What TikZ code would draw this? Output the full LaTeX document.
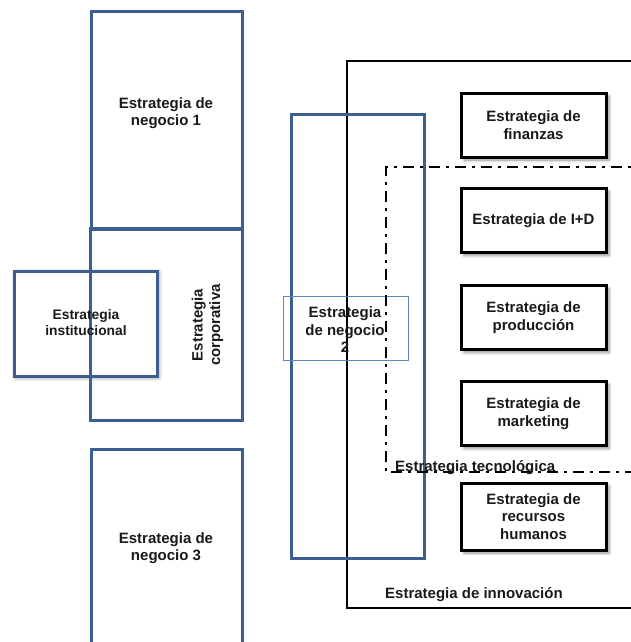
\documentclass[tikz,border=0pt]{standalone}
\usepackage{fontspec}
\setmainfont{Liberation Sans}
\usetikzlibrary{shadows.blur}
\definecolor{stratblue}{HTML}{3B5F8E}
\definecolor{labelblue}{HTML}{5B87C0}
\definecolor{inktext}{HTML}{1A1A1A}
\begin{document}
\begin{tikzpicture}[x=1pt,y=-1pt,
  lbl/.style={font=\fontsize{15}{17.5}\selectfont\bfseries, text=inktext, align=center, inner sep=0pt},
  bluebox/.style={draw=stratblue, line width=3pt, inner sep=0pt},
  blackbox/.style={draw=black, line width=3pt, fill=white, inner sep=0pt,
    minimum width=145pt, minimum height=64pt, align=center, text=inktext,
    font=\fontsize{15}{17.5}\selectfont\bfseries,
    blur shadow={shadow xshift=3pt, shadow yshift=-3pt, shadow blur steps=6, shadow blur radius=3pt, shadow opacity=45}},
  techline/.style={line width=2.2pt, dash pattern=on 11pt off 6pt on 3pt off 6pt},
]
\useasboundingbox (0,0) rectangle (631,642);
\clip (0,0) rectangle (631,642);

% institutional strategy, white with a soft shadow, under the corporate frame
\node[bluebox, fill=white, minimum width=143pt, minimum height=105pt,
  blur shadow={shadow xshift=1.5pt, shadow yshift=-1.5pt, shadow blur steps=6, shadow blur radius=4pt, shadow opacity=50}]
  (inst) at (85.5,323.5) {};

% business units and corporate frame
\node[bluebox, minimum width=151pt, minimum height=217pt] (neg1) at (166.5,120.5) {};
\node[lbl] (neg1lbl) at (166,113) {Estrategia de\\negocio 1};

\node[bluebox, minimum width=152pt, minimum height=192pt] (corp) at (166,324) {};
\node[lbl, rotate=90] (corplbl) at (207.5,325) {Estrategia\\corporativa};

\node[lbl, font=\fontsize{13.8}{16}\selectfont\bfseries] (instlbl) at (86,323) {Estrategia\\institucional};

\node[bluebox, minimum width=151pt, minimum height=251pt] (neg3) at (166.5,574.5) {};
\node[lbl] (neg3lbl) at (166,548) {Estrategia de\\negocio 3};

% innovation frame, open to the right
\draw[line width=2.5pt] (700,61) -- (347,61) -- (347,608) -- (700,608);
\node[lbl, anchor=base west] (innov) at (385,598) {Estrategia de innovación};

% business unit 2 spanning the functional area
\node[bluebox, minimum width=133pt, minimum height=444pt] (neg2) at (357.5,336) {};
\node[draw=labelblue, line width=0.8pt, minimum width=125pt, minimum height=64pt, inner sep=0pt] (neg2box) at (345.5,328) {};
\node[lbl, text depth=0pt] (neg2lbl) at (345,330) {Estrategia\\de negocio\\2};

% technology strategy frame
\draw[techline] (700,167) -- (386,167) -- (386,472) -- (700,472);
\node[lbl, anchor=base west] (tech) at (395,471) {Estrategia tecnológica};

% functional strategies
\node[blackbox] (fin)  at (533.5,125)   {Estrategia de\\finanzas};
\node[blackbox] (id)   at (533.5,220.5) {Estrategia de I+D};
\node[blackbox] (prod) at (533.5,317.5) {Estrategia de\\producción};
\node[blackbox] (mkt)  at (533.5,413.5) {Estrategia de\\marketing};
\node[blackbox, minimum height=67pt] (rrhh) at (533.5,516.5) {Estrategia de\\recursos\\humanos};
\end{tikzpicture}
\end{document}
